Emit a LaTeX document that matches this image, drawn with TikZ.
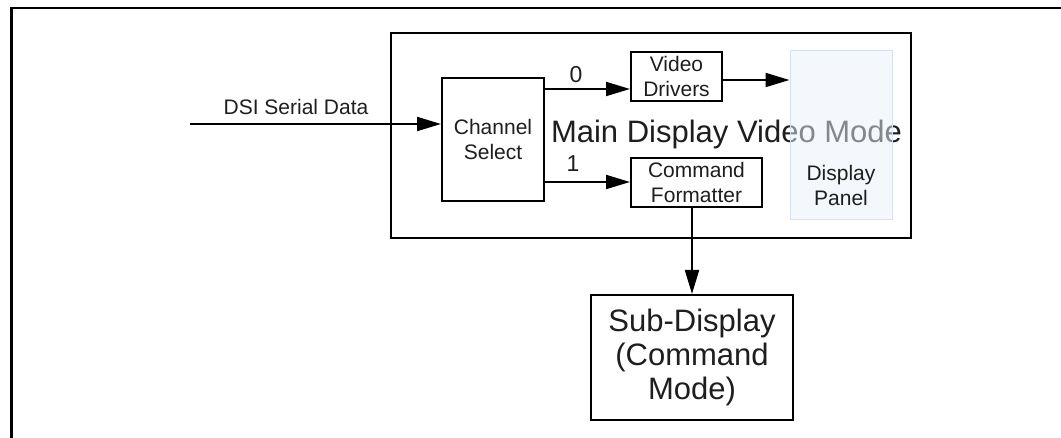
\documentclass[tikz,border=0pt]{standalone}
\usepackage{fontspec}
\setmainfont{Liberation Sans}
\usetikzlibrary{arrows.meta}
\definecolor{panelfill}{RGB}{234,240,251}
\definecolor{panelline}{RGB}{214,226,243}
\definecolor{txt}{RGB}{30,30,30}
\begin{document}
\begin{tikzpicture}[x=1pt,y=-1pt,
  blk/.style={draw=black,line width=2pt,inner sep=0pt,align=center,text=txt,
    font=\fontsize{21}{24.5}\selectfont},
  bigblk/.style={blk,font=\fontsize{31}{34}\selectfont},
  arr/.style={line width=2pt,-{Triangle[length=24pt,width=14pt]}},
  lbl/.style={inner sep=0pt,text=txt,font=\fontsize{21}{24}\selectfont}]
\useasboundingbox (0,0) rectangle (1061,438);
\fill[white] (0,0) rectangle (1061,438);
% outer frame
\draw[line width=2.8pt] (11.3,438) -- (11.3,8) -- (1061,8);
% main box
\node[draw=black,line width=2pt,inner sep=0pt,minimum width=520pt,minimum height=205pt] (main) at (651,135.5) {};
\node[lbl,anchor=base,font=\fontsize{31}{34}\selectfont] (mtitle) at (726.5,143) {Main Display Video Mode};
% display panel (semi transparent, over the title)
\node[draw=panelline,line width=1pt,fill=panelfill,fill opacity=0.5,draw opacity=1,inner sep=0pt,
  minimum width=102pt,minimum height=169pt] (dp) at (841,135.5) {};
\node[lbl,align=center,font=\fontsize{21}{25}\selectfont] (dptext) at (841,185) {Display\\Panel};
% blocks
\node[blk,minimum width=102pt,minimum height=123pt] (cs) at (493,139.5) {Channel\\Select};
\node[blk,minimum width=91pt,minimum height=49pt] (vd) at (676.5,76.5) {Video\\Drivers};
\node[blk,minimum width=131pt,minimum height=49pt] (cf) at (696.5,182.5) {Command\\Formatter};
\node[bigblk,minimum width=202pt,minimum height=125pt] (sub) at (692,357.5) {Sub-Display\\(Command\\Mode)};
% input
\coordinate (dsi) at (190,124);
\node[lbl,anchor=base] (dsil) at (296,115) {DSI Serial Data};
\draw[arr] (dsi) -- (cs.west |- dsi);
% branches
\draw[arr] (cs.east |- {(0,89)}) -- (vd.west |- {(0,89)});
\node[lbl,font=\fontsize{23}{26}\selectfont] (l0) at (576,75) {0};
\draw[arr] (cs.east |- {(0,182)}) -- (cf.west |- {(0,182)});
\node[lbl,font=\fontsize{23}{26}\selectfont] (l1) at (573,164) {1};
\draw[arr] (vd.east |- {(0,80)}) -- (dp.west |- {(0,80)});
\draw[arr] (cf.south -| sub.north) -- (sub.north);
\end{tikzpicture}
\end{document}
